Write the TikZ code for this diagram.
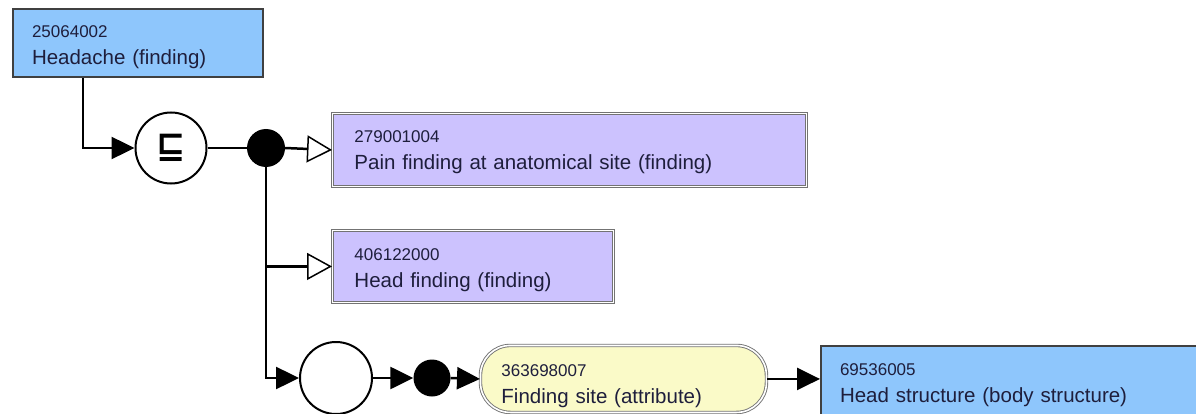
\documentclass[tikz,border=0pt]{standalone}
\usepackage{fontspec}
\setmainfont{Liberation Sans}
\newfontfamily\symf{DejaVu Sans}
\usetikzlibrary{arrows.meta}
\definecolor{cblue}{HTML}{8EC6FC}
\definecolor{clav}{HTML}{CCC2FE}
\definecolor{cyel}{HTML}{FAFAC8}
\definecolor{ctext}{HTML}{1E1E3C}
\newcommand{\codef}{\fontsize{17pt}{27pt}\selectfont}
\newcommand{\labf}{\fontsize{20.5pt}{27pt}\selectfont}
% code line with a top strut of given height (shifts the text block down)
\newcommand{\codeline}[2]{{\codef\rule{0pt}{#1pt}#2}}
\tikzset{
  concept/.style={draw=black!75, line width=2pt, fill=cblue, anchor=north west, align=left,
    inner xsep=19pt, inner ysep=0pt, text=ctext, font=\labf},
  prim/.style={draw=black!55, line width=0.9pt, double=white, double distance=1.6pt, fill=clav,
    anchor=north west, align=left, inner xsep=22pt, inner ysep=0pt, text=ctext, font=\labf},
  attr/.style={draw=black!55, line width=0.9pt, double=white, double distance=1.6pt, fill=cyel,
    rounded corners=30pt, anchor=north west, align=left, inner xsep=21pt, inner ysep=0pt, text=ctext, font=\labf},
  opcirc/.style={circle, draw=black, line width=2pt, fill=white, inner sep=0pt},
  blackdot/.style={circle, fill=black, inner sep=0pt},
  conn/.style={line width=2.5pt, draw=black},
  arr/.style={conn, -{Triangle[length=23pt,width=22pt]}},
  openarr/.style={conn, -{Triangle[open,length=25pt,width=27pt,line width=1.5pt,fill=white]}},
}
\begin{document}
\begin{tikzpicture}[x=1pt,y=-1pt]
\clip (0,0) rectangle (1196,414);
\fill[white] (0,0) rectangle (1196,414);

\node[concept, minimum width=250pt, text width=212pt, minimum height=68pt] (head) at (12,8)
  {\codeline{20.3}{25064002}\\Headache (finding)};

\node[opcirc, minimum size=71pt] (sub) at (171,148) {\fontsize{35pt}{35pt}\symf\bfseries ⊑};
\node[blackdot, minimum size=38pt] (dot1) at (266,148) {};

\node[prim, minimum width=474pt, text width=430pt, minimum height=73pt] (pain) at (332,113)
  {\codeline{17.3}{279001004}\\Pain finding at anatomical site (finding)};
\node[prim, minimum width=281pt, text width=237pt, minimum height=72pt] (hf) at (332,230)
  {\codeline{19.3}{406122000}\\Head finding (finding)};

\node[opcirc, minimum size=72pt] (circ2) at (336,378) {};
\node[blackdot, minimum size=37pt] (dot2) at (432,378) {};

\node[attr, minimum width=286pt, text width=244pt, minimum height=67pt] (fs) at (480,345)
  {\codeline{25.5}{363698007}\\Finding site (attribute)};
\node[concept, minimum width=390pt, text width=352pt, minimum height=75pt] (hs) at (820,345)
  {\codeline{15.3}{69536005}\\Head structure (body structure)};

\draw[arr] ([xshift=71pt]head.south west) |- (sub.west);
\draw[conn] (sub.east) -- (dot1.west);
\draw[openarr] (dot1.east) -- (pain.west);
\draw[conn] (dot1.center) -- (dot1 |- circ2.west) -- ([xshift=-2pt]circ2.west);
\draw[arr] ([xshift=-24pt]circ2.west) -- (circ2.west);
\draw[openarr] (dot1 |- hf.west) -- (hf.west);
\draw[arr] (circ2.east) -- (dot2.west);
\draw[arr] (dot2.east) -- (fs.west);
\draw[arr] (fs.east) -- (fs.east -| hs.west);
\end{tikzpicture}
\end{document}
